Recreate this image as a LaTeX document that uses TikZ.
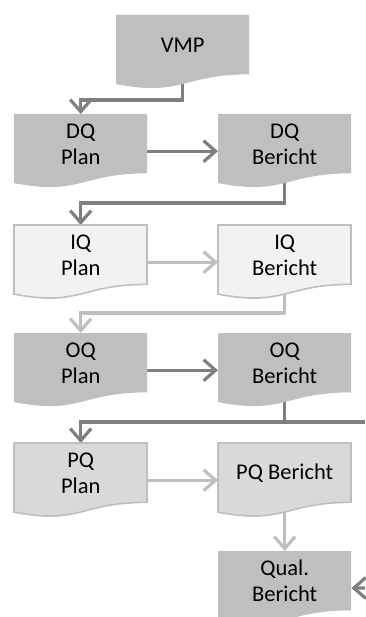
\documentclass[tikz,border=0pt]{standalone}
\usepackage{fontspec}
\setmainfont{Carlito}
\usetikzlibrary{arrows.meta}

\definecolor{boxdark}{HTML}{BFBFBF}
\definecolor{boxlight}{HTML}{F2F2F2}
\definecolor{boxmid}{HTML}{D9D9D9}
\definecolor{edgelight}{HTML}{BFBFBF}
\definecolor{linedark}{HTML}{7F7F7F}
\definecolor{linelight}{HTML}{BFBFBF}

\pgfdeclarelayer{lines}
\pgfdeclarelayer{shapes}
\pgfsetlayers{lines,shapes,main}

% document outline (wavy bottom) hung from a node's north west corner
\newcommand\docshape[2]{%
  \path[#2, shift={(#1.north west)}]
    (0,0) -- (133,0) -- (133,59.35)
    .. controls (66.5,59.35) and (66.5,81.96) .. (0,69.1) -- cycle;}

\tikzset{
  docbox/.style={rectangle, anchor=north west, minimum width=133pt,
    minimum height=59.2pt, inner sep=0pt, align=center,
    font=\fontsize{22.5}{26}\selectfont, text=black},
  filldark/.style={fill=boxdark},
  filllight/.style={fill=boxlight, draw=edgelight, line width=1.6pt},
  fillmid/.style={fill=boxmid, draw=edgelight, line width=1.6pt},
  tip/.style={-{Straight Barb[length=12pt,width=21pt]}},
  darkline/.style={draw=linedark, line width=3.2pt, tip},
  lightline/.style={draw=linelight, line width=3.2pt, tip},
}

\begin{document}
\begin{tikzpicture}[x=1pt, y=-1pt]
\useasboundingbox (0,0) rectangle (365,617);

% boxes
\node[docbox] (vmp)  at (116,15)  {VMP};
\node[docbox] (dqp)  at (14,114)  {DQ\\Plan};
\node[docbox] (dqb)  at (218,114) {DQ\\Bericht};
\node[docbox] (iqp)  at (14,225)  {IQ\\Plan};
\node[docbox] (iqb)  at (218,225) {IQ\\Bericht};
\node[docbox] (oqp)  at (14,333)  {OQ\\Plan};
\node[docbox] (oqb)  at (218,333) {OQ\\Bericht};
\node[docbox] (pqp)  at (14,443)  {PQ\\Plan};
\node[docbox] (pqb)  at (218,443) {PQ Bericht};
\node[docbox] (qual) at (218,551) {Qual.\\Bericht};

\begin{pgfonlayer}{shapes}
  \docshape{vmp}{filldark}
  \docshape{dqp}{filldark}
  \docshape{dqb}{filldark}
  \docshape{iqp}{filllight}
  \docshape{iqb}{filllight}
  \docshape{oqp}{filldark}
  \docshape{oqb}{filldark}
  \docshape{pqp}{fillmid}
  \docshape{pqb}{fillmid}
  \docshape{qual}{filldark}
\end{pgfonlayer}

% connectors
\coordinate (outR) at (365,422);
\coordinate (inR)  at (365,588);
\begin{pgfonlayer}{lines}
  \draw[darkline] (vmp.south) |- ([yshift=14pt]dqp.north) -- (dqp.north);
  \draw[darkline] ([yshift=-7.4pt]dqp.east) -- ([yshift=-7.4pt]dqb.west);
  \draw[darkline] (dqb.south) |- ([yshift=22pt]iqp.north) -- (iqp.north);
  \draw[lightline] ([yshift=-7.4pt]iqp.east) -- ([yshift=-7.4pt]iqb.west);
  \draw[lightline] (iqb.south) |- ([yshift=20pt]oqp.north) -- (oqp.north);
  \draw[darkline] ([yshift=-7.4pt]oqp.east) -- ([yshift=-7.4pt]oqb.west);
  \draw[darkline] (oqb.south) |- ([yshift=21pt]pqp.north) -- (pqp.north);
  \draw[darkline, -] (oqb.south) |- (outR);
  \draw[lightline] ([yshift=-7.4pt]pqp.east) -- ([yshift=-7.4pt]pqb.west);
  \draw[lightline] (pqb.south) -- (qual.north);
  \draw[darkline] (inR) -- ([yshift=-7.4pt]qual.east);
\end{pgfonlayer}
\end{tikzpicture}
\end{document}
